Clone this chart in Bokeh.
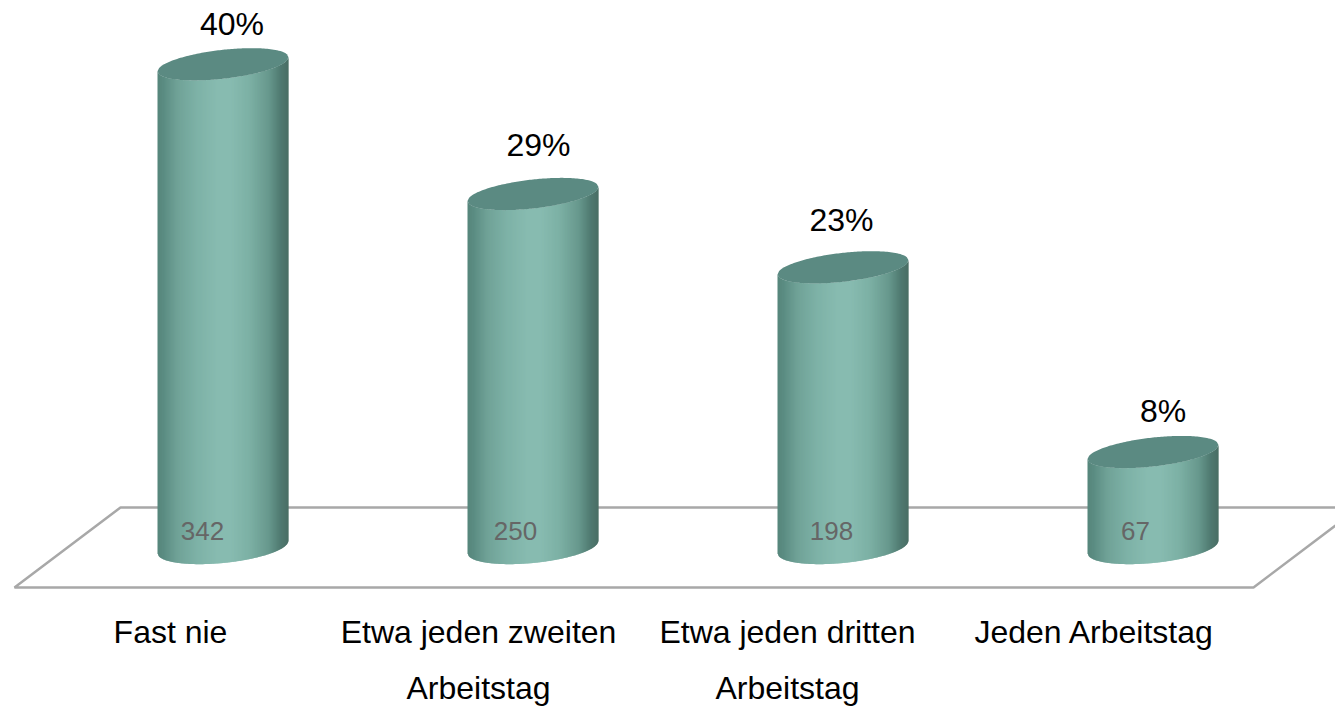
import numpy as np
from bokeh.core.properties import value
from bokeh.embed import file_html
from bokeh.models import Range1d
from bokeh.plotting import figure
from bokeh.resources import INLINE

categories = ["Fast nie", "Etwa jeden zweiten\nArbeitstag", "Etwa jeden dritten\nArbeitstag", "Jeden Arbeitstag"]
counts = [342, 250, 198, 67]
percents = ["40%", "29%", "23%", "8%"]

# layout (screen pixels relative to the figure)
W, H = 1335, 706
X0, STEP = 222.5, 310.0        # pixel position of category 0, category spacing
Y0, PX_PER_UNIT = 553.0, 1.41  # pixel position of value 0, pixels per unit
HALF_W = 65.5 / STEP           # half cylinder width in category units
SLOPE_TOP, SLOPE_BOTTOM = -0.108, -0.095  # tilt of the ellipses, px/px
B_TOP, B_BOTTOM = 14.5, 16.0   # vertical semi-axes of the ellipses in px

pct_dx = [9, 5.5, -1.5, 10]
pct_dy = [-47, -56, -54, -48]
cnt_dx = [-20.5, -17.5, -11.5, -17.5]
cat_dx = [-52.5, -54.5, -55.5, -58.5]

stops_u = [-1.0, -0.9, -0.7, -0.4, -0.1, 0.1, 0.4, 0.7, 0.88, 1.0]
stops_rgb = np.array([
    (86, 134, 124), (92, 141, 131), (112, 162, 151), (126, 178, 167), (135, 187, 176),
    (136, 188, 177), (125, 177, 165), (104, 152, 141), (80, 122, 113), (74, 110, 101),
])
TOP_COLOR = "#5b8a82"
FLOOR_COLOR = "#a8a8a8"


def dy(px):
    return px / PX_PER_UNIT


def fx(px):
    return (px - X0) / STEP


def fy(px):
    return (Y0 - px) / PX_PER_UNIT


p = figure(
    width=W, height=H, output_backend="svg", toolbar_location=None,
    x_range=Range1d((0 - X0) / STEP, (W - X0) / STEP),
    y_range=Range1d((Y0 - H) / PX_PER_UNIT, Y0 / PX_PER_UNIT),
    x_axis_location=None, y_axis_location=None, min_border=0,
    outline_line_color=None, background_fill_color="white",
)
p.grid.visible = False

# floor of the 3D chart
p.line(x=[fx(1335), fx(120), fx(14), fx(1253), fx(1335)],
       y=[fy(507), fy(507), fy(587), fy(587), fy(525)],
       line_color=FLOOR_COLOR, line_width=2.5)


def edge(u, v, sign, slope, b):
    """y-value on the tilted ellipse at height v; sign=+1 lower arc, -1 upper arc."""
    shear = -slope * 65.5 * u
    arc = -sign * b * np.sqrt(np.clip(1 - u * u, 0, 1))
    return v + dy(shear + arc)


N = 131
edges = np.linspace(-1, 1, N + 1)
for i, v in enumerate(counts):
    top_v = v + dy(7)
    bot_v = dy(6.5)
    xs, ys, cols = [], [], []
    for a, b in zip(edges[:-1], edges[1:]):
        m = (a + b) / 2
        rgb = [int(np.interp(m, stops_u, stops_rgb[:, c])) for c in range(3)]
        b2 = min(b + 0.012, 1)
        xs.append([i + a * HALF_W, i + b2 * HALF_W, i + b2 * HALF_W, i + a * HALF_W])
        ys.append([edge(a, top_v, 1, SLOPE_TOP, B_TOP), edge(b2, top_v, 1, SLOPE_TOP, B_TOP),
                   edge(b2, bot_v, 1, SLOPE_BOTTOM, B_BOTTOM), edge(a, bot_v, 1, SLOPE_BOTTOM, B_BOTTOM)])
        cols.append("#%02x%02x%02x" % tuple(rgb))
    p.patches(xs, ys, fill_color=cols, line_color=None)
    us = np.linspace(-1, 1, 81)
    ell_x = np.concatenate([i + us * HALF_W, i + us[::-1] * HALF_W])
    ell_y = np.concatenate([edge(us, top_v, -1, SLOPE_TOP, B_TOP), edge(us[::-1], top_v, 1, SLOPE_TOP, B_TOP)])
    p.patch(ell_x, ell_y, fill_color=TOP_COLOR, line_color=None)

idx = list(range(len(counts)))
FONT = value("Liberation Sans")

p.text(x=idx, y=counts, text=percents, x_offset=pct_dx, y_offset=pct_dy,
       text_font=FONT, text_font_size="32px", text_color="black",
       text_align="center", text_baseline="middle")

p.text(x=idx, y=[fy(530)] * 4, text=[str(c) for c in counts], x_offset=cnt_dx,
       text_font=FONT, text_font_size="26px", text_color="#666666",
       text_align="center", text_baseline="middle")

first = [c.split("\n")[0] for c in categories]
second = [(i, c.split("\n")[1], cat_dx[i]) for i, c in enumerate(categories) if "\n" in c]
p.text(x=idx, y=[fy(631)] * 4, text=first, x_offset=cat_dx,
       text_font=FONT, text_font_size="32px", text_color="black",
       text_align="center", text_baseline="middle")
p.text(x=[s[0] for s in second], y=[fy(687)] * len(second), text=[s[1] for s in second],
       x_offset=[s[2] for s in second],
       text_font=FONT, text_font_size="32px", text_color="black",
       text_align="center", text_baseline="middle")

open("out.html", "w").write(file_html(p, INLINE))
